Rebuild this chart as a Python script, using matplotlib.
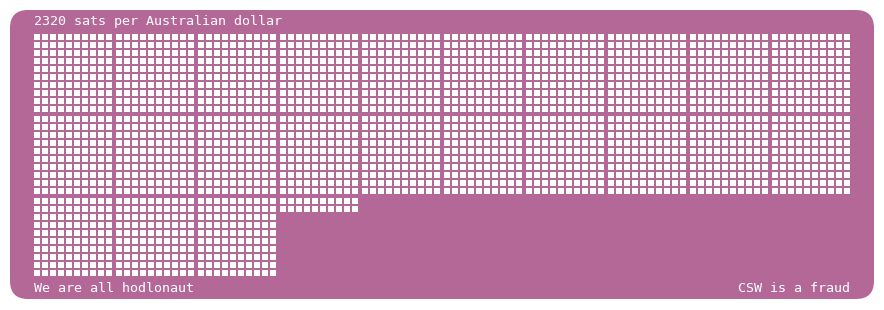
import matplotlib
matplotlib.use("Agg")
import matplotlib.pyplot as plt
from matplotlib.patches import FancyBboxPatch, Rectangle
from matplotlib.collections import PatchCollection

# data
sats = 2320
currency = "Australian dollar"
footer_left = "We are all hodlonaut"
footer_right = "CSW is a fraud"

BLOCK = 10          # 10x10 squares per block (100 sats)
BLOCKS_PER_ROW = 10

PURPLE = "#b36898"
W, H = 884, 310

fig = plt.figure(figsize=(W / 100, H / 100), dpi=100)
ax = fig.add_axes([0, 0, 1, 1])
ax.set_xlim(0, W)
ax.set_ylim(H, 0)
ax.axis('off')

# background card
card = FancyBboxPatch((10 + 18, 10 + 18), 864 - 36, 289 - 36,
                      boxstyle="round,pad=18", fc=PURPLE, ec='none')
ax.add_patch(card)

# squares, one per sat
x0, y0 = 34, 34
cell, size = 8, 6
block_pitch = 82
rects = []
for i in range(sats):
    b, k = divmod(i, BLOCK * BLOCK)
    brow, bcol = divmod(b, BLOCKS_PER_ROW)
    r, c = divmod(k, BLOCK)
    x = x0 + bcol * block_pitch + c * cell
    y = y0 + brow * block_pitch + r * cell
    rects.append(Rectangle((x, y), size, size))
ax.add_collection(PatchCollection(rects, fc='white', ec='none',
                                  antialiased=True, snap=False))

font = dict(family='DejaVu Sans Mono', fontsize=9.6, color='white')
ax.text(34, 21, f"{sats} sats per {currency}", ha='left', va='center', **font)
ax.text(34, 288, footer_left, ha='left', va='center', **font)
ax.text(850, 288, footer_right, ha='right', va='center', **font)

plt.savefig("out.png", dpi=100, facecolor='white')
plt.close()
